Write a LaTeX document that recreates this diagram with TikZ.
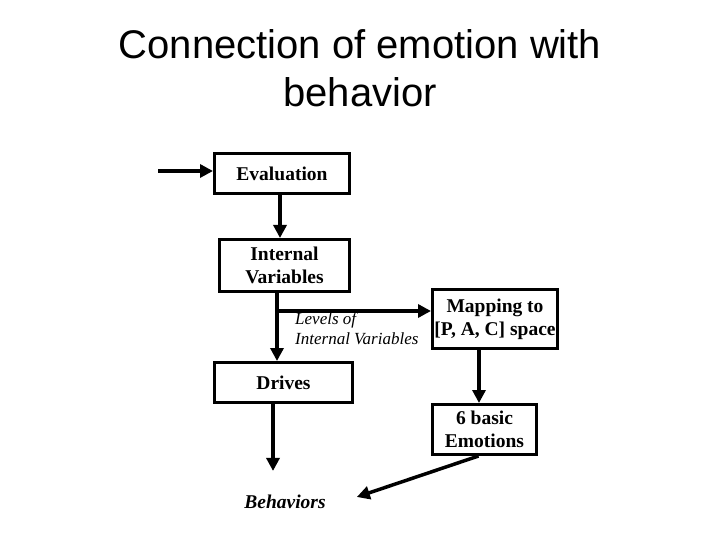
\documentclass[tikz,border=0pt]{standalone}
\usepackage{fontspec}
\setmainfont{Liberation Serif}
\newfontfamily\titlefont{Liberation Sans}
\usetikzlibrary{arrows.meta}

\tikzset{
	box/.style={draw, line width=3pt, inner sep=0pt, align=center,
		font=\bfseries\fontsize{19.5}{23}\selectfont},
	arr/.style={line width=3.5pt, -{Triangle[length=13pt,width=13pt]}}
}

\begin{document}
\begin{tikzpicture}[x=1pt,y=-1pt]
	\useasboundingbox (0,0) rectangle (720,540);

	% Title
		\node[font=\titlefont\fontsize{40}{48}\selectfont, align=center, inner sep=0pt] (title) at (360,68.5) {Connection of emotion with\\behavior};

	% Left column
		\node[box, minimum width=135, minimum height=40] (eval) at (282,173.5) {Evaluation};
		\node[box, minimum width=130, minimum height=52] (intvar) at (284.5,265.5) {Internal\\Variables};
		\node[box, minimum width=138, minimum height=40] (drives) at (283.5,382.5) {Drives};
		\node[font=\bfseries\itshape\fontsize{19.5}{23}\selectfont, inner sep=0pt] (behav) at (285,502) {Behaviors};

	% Right column
		\node[box, minimum width=125, minimum height=59] (mapping) at (495,319) {Mapping to\\{[P, A, C]} space};
		\node[box, minimum width=104, minimum height=50] (basic) at (484.5,429.5) {6 basic\\Emotions};

	% Connectors
		\coordinate (input) at (158,171);
		\coordinate (split) at (277,311);
		\draw[arr] (input) -- (input -| eval.west);
		\draw[arr] ([xshift=-2pt]eval.south) -- ([xshift=-4.5pt]intvar.north);
		\draw[line width=3.5pt] ([xshift=-7.5pt]intvar.south) -- (split);
		\draw[arr] (split) -- ([xshift=-6.5pt]drives.north);
		\draw[arr] (split) -- (split -| mapping.west);
		\node[anchor=north west, align=left, inner sep=0pt, font=\itshape\fontsize{17}{20}\selectfont] (levels) at (295,312) {Levels of\\Internal Variables};
		\draw[arr] ([xshift=-16pt]mapping.south) -- ([xshift=-5.5pt]basic.north);
		\draw[arr] ([xshift=-10.5pt]drives.south) -- ([xshift=-12pt,yshift=24pt]behav.north);
		\draw[arr] ([xshift=-6pt]basic.south) -- ([xshift=31pt,yshift=5pt]behav.east);
\end{tikzpicture}
\end{document}
